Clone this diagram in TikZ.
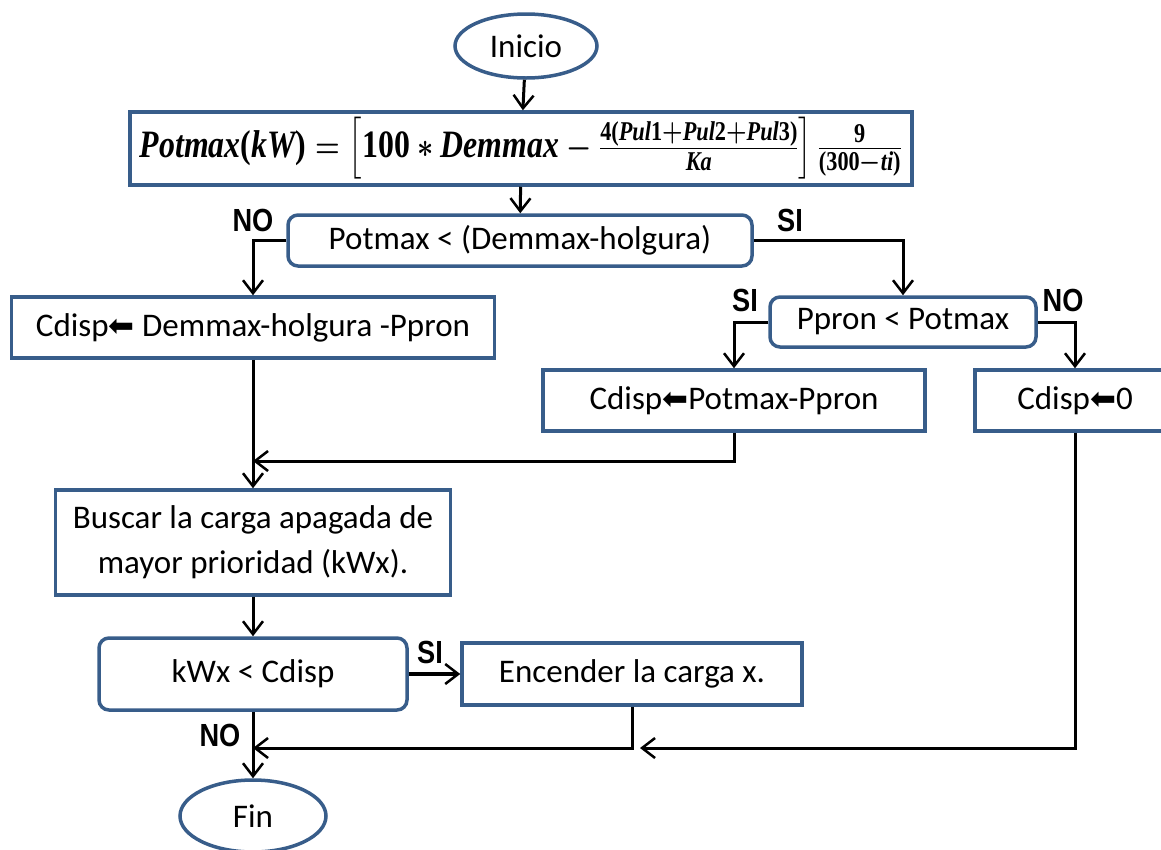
\documentclass[tikz,border=0pt]{standalone}
\usepackage{fontspec}
\usepackage{amsmath}
\usepackage{graphicx}
\setmainfont{Carlito}
\newfontfamily\lblfont{Liberation Sans}
\newfontfamily\symfont{DejaVu Sans}
\newfontfamily\fmfont{Liberation Serif}
\usetikzlibrary{arrows.meta,shapes.geometric}
\definecolor{bord}{RGB}{56,93,138}
\newcommand{\larr}{{\symfont\fontsize{31}{31}\selectfont\char"2B05}}
\newcommand{\fv}[1]{\text{\fmfont\bfseries\itshape #1}}
\newcommand{\fn}[1]{\text{\fmfont\bfseries #1}}
\newcommand{\potformula}{%
  \resizebox*{762pt}{62pt}{\boldmath\fontsize{28}{32}\selectfont
   $\fv{Potmax}\fn{(}\fv{kW}\fn{)}=\left[\fn{100}*\fv{Demmax}-\frac{\fn{4(}\fv{Pul}\fn{1}+\fv{Pul}\fn{2}+\fv{Pul}\fn{3)}}{\fv{Ka}}\right]\frac{\fn{9}}{\fn{(300}-\fv{ti}\fn{)}}$}}
\newcommand{\branch}[1]{\scalebox{0.85}[1]{#1}}
\tikzset{
  base/.style={draw=bord, line width=3.5pt, fill=white, inner sep=0pt, align=center,
    font=\fontsize{33}{45}\selectfont},
  procbox/.style={base, rectangle},
  testbox/.style={base, rectangle, rounded corners=10pt},
  termbox/.style={base, ellipse},
  conn/.style={line width=3pt, draw=black, -{Straight Barb[length=13pt,width=20pt,line width=2.5pt]}},
  tag/.style={font=\lblfont\bfseries\fontsize{32}{32}\selectfont, inner sep=0pt}
}
\begin{document}
\begin{tikzpicture}[x=1pt,y=-1pt]
\useasboundingbox (0,0) rectangle (1161,849);

% nodes
\node[termbox, minimum width=142pt, minimum height=64pt] (inicio) at (526,46) {Inicio};
\node[procbox, minimum width=782pt, minimum height=73pt] (formula) at (521,148.5) {\potformula};
\node[testbox, minimum width=464pt, minimum height=51pt] (d1) at (520,240.5) {Potmax < (Demmax-holgura)};
\node[procbox, minimum width=483pt, minimum height=61pt] (b1) at (253,327.5) {Cdisp\larr\ Demmax-holgura -Ppron};
\node[testbox, minimum width=266pt, minimum height=50pt] (d2) at (903,322) {Ppron < Potmax};
\node[procbox, minimum width=382pt, minimum height=61pt] (b2) at (734,400.5) {Cdisp\larr Potmax-Ppron};
\node[procbox, minimum width=200pt, minimum height=61pt] (b3) at (1075,400.5) {Cdisp\larr 0};
\node[procbox, minimum width=395pt, minimum height=105pt] (buscar) at (253,542.5) {Buscar la carga apagada de\\mayor prioridad (kWx).};
\node[testbox, minimum width=308pt, minimum height=72pt] (d3) at (253,674) {kWx < Cdisp};
\node[procbox, minimum width=340pt, minimum height=62pt] (enc) at (632,674) {Encender la carga x.};
\node[termbox, minimum width=146pt, minimum height=72pt] (fin) at (253,816) {Fin};

% junction points
\coordinate (m1) at (253,461);
\coordinate (m2) at (253,748);
\coordinate (m3) at (640,748);

% connectors
\draw[conn] (inicio) -- (formula);
\draw[conn] (formula) -- (d1);
\draw[conn] (d1.west) -| (b1.north);
\draw[conn] (d1.east) -| (d2.north);
\draw[conn] (d2.west) -| (b2.north);
\draw[conn] (d2.east) -| (b3.north);
\draw[conn] (b2.south) |- (m1);
\draw[conn] (b1.south) -- (buscar.north);
\draw[conn] (buscar) -- (d3);
\draw[conn, line width=4.5pt] (d3.east) -- (enc.west);
\draw[conn] (enc.south) |- (m2);
\draw[conn] (b3.south) |- (m3);
\draw[conn] (d3.south) -- (fin.north);

% branch labels
\node[tag] (no1) at (253,220) {\branch{NO}};
\node[tag] (si1) at (790,220) {\branch{SI}};
\node[tag] (si2) at (745,300) {\branch{SI}};
\node[tag] (no2) at (1063,300) {\branch{NO}};
\node[tag] (si3) at (430,652) {\branch{SI}};
\node[tag] (no3) at (220,735) {\branch{NO}};
\end{tikzpicture}
\end{document}
